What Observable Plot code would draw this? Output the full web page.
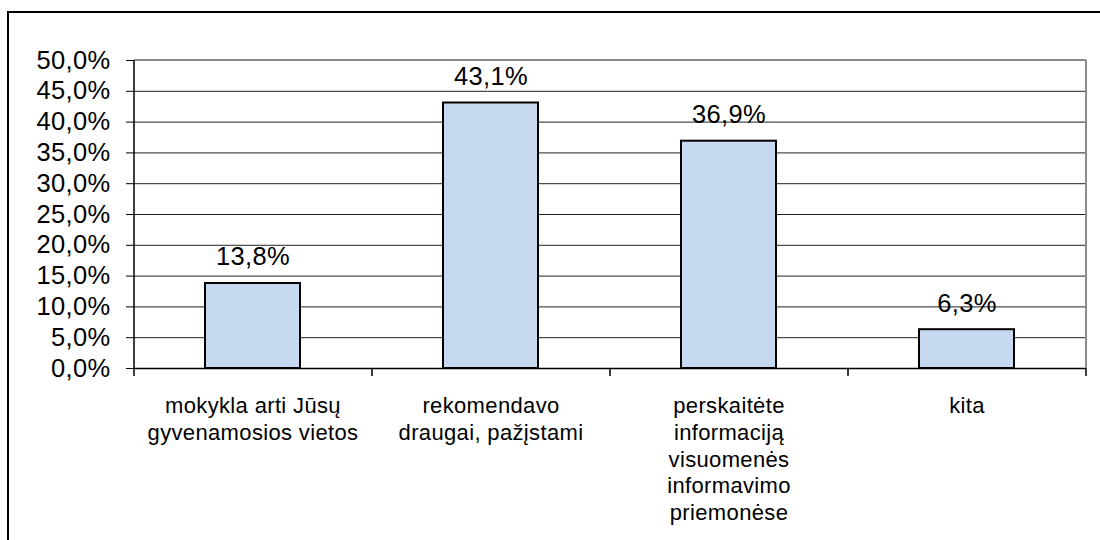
<!DOCTYPE html>
<html><head><meta charset="utf-8">
<script src="https://cdn.jsdelivr.net/npm/d3@7"></script>
<script src="https://cdn.jsdelivr.net/npm/@observablehq/plot@0.6"></script>
<style>
body{margin:0;background:#fff;}
#wrap{position:relative;width:1100px;height:540px;overflow:hidden;background:#fff;}
#border{position:absolute;left:7px;top:11px;width:1200px;height:700px;border:2px solid #000;box-sizing:border-box;}
#chart{position:absolute;left:0;top:0;}
</style></head><body>
<div id="wrap"><div id="border"></div><div id="chart"></div></div>
<script>
const categories = [
  "mokykla arti Jūsų gyvenamosios vietos",
  "rekomendavo draugai, pažįstami",
  "perskaitėte informaciją visuomenės informavimo priemonėse",
  "kita"
];
const tickLabels = [
  "mokykla arti Jūsų\ngyvenamosios vietos",
  "rekomendavo\ndraugai, pažįstami",
  "perskaitėte\ninformaciją\nvisuomenės\ninformavimo\npriemonėse",
  "kita"
];
const values = [13.8, 43.1, 36.9, 6.3];
const valueLabels = ["13,8%", "43,1%", "36,9%", "6,3%"];
const yTicks = [0, 5, 10, 15, 20, 25, 30, 35, 40, 45, 50];

const data = categories.map((c, i) => ({cat: c, value: values[i], label: valueLabels[i]}));
const labelOf = new Map(categories.map((c, i) => [c, tickLabels[i]]));
const fmtY = v => v.toFixed(1).replace(".", ",") + "%";

function frameLines() {
  const args = [...arguments];
  const dims = args.find(a => a && typeof a === "object" && a.marginLeft !== undefined);
  const left = dims.marginLeft, right = dims.width - dims.marginRight;
  const top = dims.marginTop, bottom = dims.height - dims.marginBottom;
  const n = categories.length, step = (right - left) / n;
  const g = d3.create("svg:g");
  g.append("line").attr("x1", left).attr("x2", right).attr("y1", top).attr("y2", top)
    .attr("stroke", "#8c8c8c").attr("stroke-width", 2);
  g.append("line").attr("x1", right).attr("x2", right).attr("y1", top).attr("y2", bottom)
    .attr("stroke", "#8c8c8c").attr("stroke-width", 2);
  g.append("line").attr("x1", left).attr("x2", left).attr("y1", top).attr("y2", bottom)
    .attr("stroke", "#000").attr("stroke-width", 1.5);
  for (let i = 0; i <= n; i++) {
    const x = left + i * step;
    g.append("line").attr("x1", x).attr("x2", x).attr("y1", bottom).attr("y2", bottom + 8)
      .attr("stroke", "#000").attr("stroke-width", 1.5);
  }
  return g.node();
}

const chart = Plot.plot({
  width: 1100,
  height: 540,
  marginLeft: 134,
  marginRight: 14,
  marginTop: 60,
  marginBottom: 172,
  style: {fontFamily: "'Liberation Sans', Arial, sans-serif", fontSize: "22px", color: "#000", background: "transparent", letterSpacing: "0.35px"},
  x: {domain: categories, paddingInner: 0.6, paddingOuter: 0.3, label: null},
  y: {domain: [0, 50], label: null},
  marks: [
    Plot.ruleY(yTicks.filter(v => v > 0 && v < 50), {stroke: "#222", strokeWidth: 1}),
    Plot.barY(data, {x: "cat", y: "value", fill: "#c6d9f1", stroke: "#000", strokeWidth: 2}),
    Plot.ruleY([0], {stroke: "#000", strokeWidth: 1.5}),
    frameLines,
    Plot.axisY({ticks: yTicks, tickFormat: fmtY, tickSize: 8, tickPadding: 16, fontSize: 25.5, label: null}),
    Plot.axisX({tickSize: 0, tickPadding: 26, fontSize: 22, tickFormat: d => labelOf.get(d), lineHeight: 1.21, label: null}),
    Plot.text(data, {x: "cat", y: "value", text: "label", dy: -18, lineAnchor: "bottom", fontSize: 25.5, fill: "#000"})
  ]
});
document.getElementById("chart").appendChild(chart);
</script>
</body></html>
